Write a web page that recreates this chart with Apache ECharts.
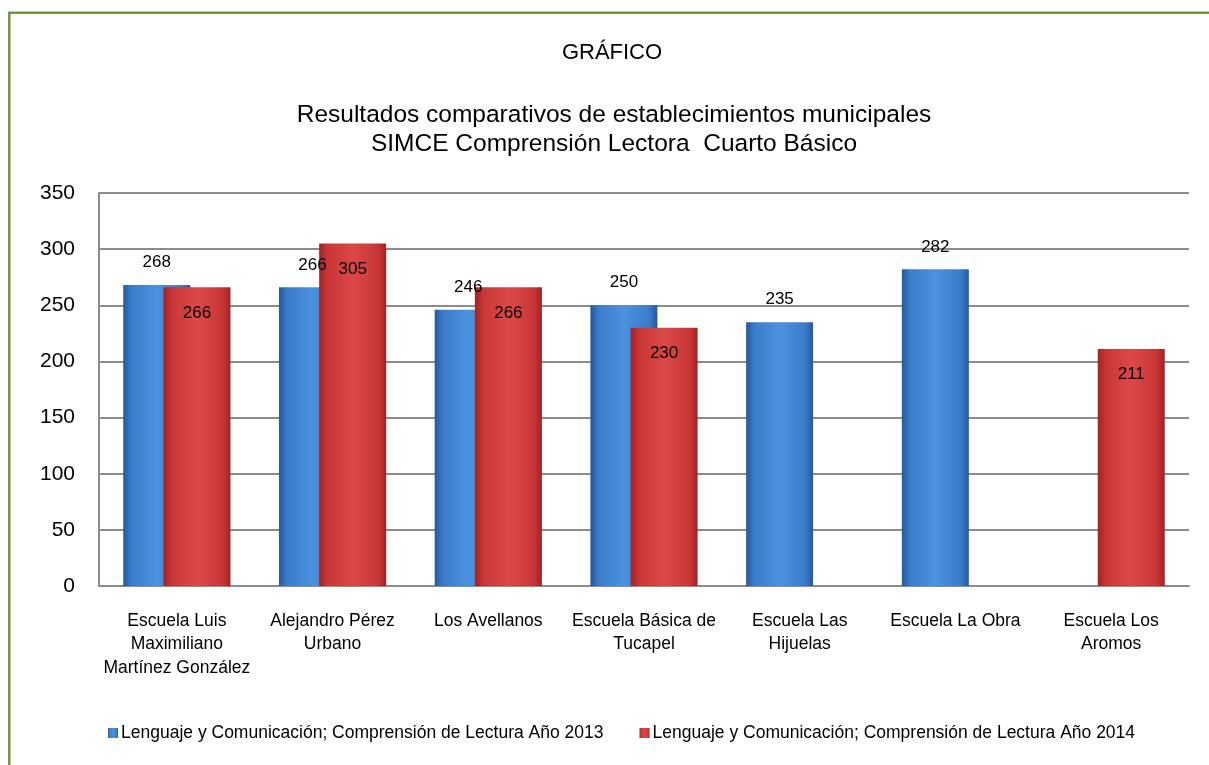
<!DOCTYPE html>
<html>
<head>
<meta charset="utf-8">
<style>
  html, body { margin: 0; padding: 0; background: #fff; }
  #chart { width: 1209px; height: 765px; }
</style>
<script src="https://cdn.jsdelivr.net/npm/echarts@6/dist/echarts.min.js"></script>
</head>
<body>
<div id="chart"></div>
<script>
// datos SIMCE
const categories = [
  'Escuela Luis\nMaximiliano\nMartínez González',
  'Alejandro Pérez\nUrbano',
  'Los Avellanos',
  'Escuela Básica de\nTucapel',
  'Escuela Las\nHijuelas',
  'Escuela La Obra',
  'Escuela Los\nAromos',
];
const year2013 = [268, 266, 246, 250, 235, 282, null];
const year2014 = [266, 305, 266, 230, null, null, 211];
const seriesNames = [
  'Lenguaje y Comunicación; Comprensión de Lectura Año 2013',
  'Lenguaje y Comunicación; Comprensión de Lectura Año 2014',
];
const yTicks = { min: 0, max: 350, interval: 50 };

const FONT = '"Liberation Sans Narrow", "Arial Narrow", "Liberation Sans", sans-serif';

function bevel(dark, mid, light) {
  return new echarts.graphic.LinearGradient(0, 0, 1, 0, [
    { offset: 0, color: dark },
    { offset: 0.12, color: mid },
    { offset: 0.5, color: light },
    { offset: 0.88, color: mid },
    { offset: 1, color: dark },
  ]);
}

const chart = echarts.init(document.getElementById('chart'), null, { renderer: 'canvas' });
chart.setOption({
  animation: false,
  textStyle: { fontFamily: FONT },
  graphic: [
    {
      type: 'rect', silent: true, z: 100,
      shape: { x: 9.3, y: 12.7, width: 1260, height: 800 },
      style: { fill: 'none', stroke: '#77933c', lineWidth: 2.5 },
    },
    {
      type: 'text', silent: true, x: 612, y: 53,
      style: { text: 'GRÁFICO', font: '22px ' + FONT, fill: '#000', align: 'center', verticalAlign: 'middle' },
    },
    {
      type: 'text', silent: true, x: 614, y: 115,
      style: { text: 'Resultados comparativos de establecimientos municipales', font: '24.5px ' + FONT, fill: '#000', align: 'center', verticalAlign: 'middle' },
    },
    {
      type: 'text', silent: true, x: 614, y: 144,
      style: { text: 'SIMCE Comprensión Lectora  Cuarto Básico', font: '24.5px ' + FONT, fill: '#000', align: 'center', verticalAlign: 'middle' },
    },
  ],
  legend: {
    bottom: 18,
    left: 103,
    itemWidth: 10,
    itemHeight: 10,
    itemGap: 36,
    icon: 'rect',
    textStyle: { fontFamily: FONT, fontSize: 17.5, color: '#000', padding: [0, 0, 0, -2] },
    data: seriesNames,
  },
  grid: { left: 99, right: 20, top: 193, bottom: 179, containLabel: false },
  xAxis: {
    type: 'category',
    data: categories,
    axisLine: { lineStyle: { color: '#8c8c8c', width: 2 } },
    axisTick: { show: false },
    axisLabel: { fontFamily: FONT, fontSize: 17.5, color: '#000', lineHeight: 23.5, margin: 23, interval: 0 },
  },
  yAxis: {
    type: 'value',
    min: yTicks.min, max: yTicks.max, interval: yTicks.interval,
    axisLine: { show: true, lineStyle: { color: '#8c8c8c', width: 2 } },
    axisTick: { show: false },
    axisLabel: { fontFamily: FONT, fontSize: 21, color: '#000', margin: 24 },
    splitLine: { lineStyle: { color: '#8c8c8c', width: 2 } },
  },
  series: [
    {
      name: seriesNames[0],
      type: 'bar',
      data: year2013,
      barWidth: 67,
      barGap: '-40%',
      itemStyle: { color: bevel('#25589a', '#3a7cc9', '#4b92e0') },
      label: {
        show: true, position: 'top', distance: 14,
        fontFamily: FONT, fontSize: 17, color: '#000',
      },
    },
    {
      name: seriesNames[1],
      type: 'bar',
      data: year2014,
      barWidth: 67,
      itemStyle: { color: bevel('#9e2222', '#c93636', '#dc4848') },
      label: {
        show: true, position: 'insideTop', distance: 17,
        fontFamily: FONT, fontSize: 17, color: '#000',
      },
    },
  ],
});
</script>
</body>
</html>
